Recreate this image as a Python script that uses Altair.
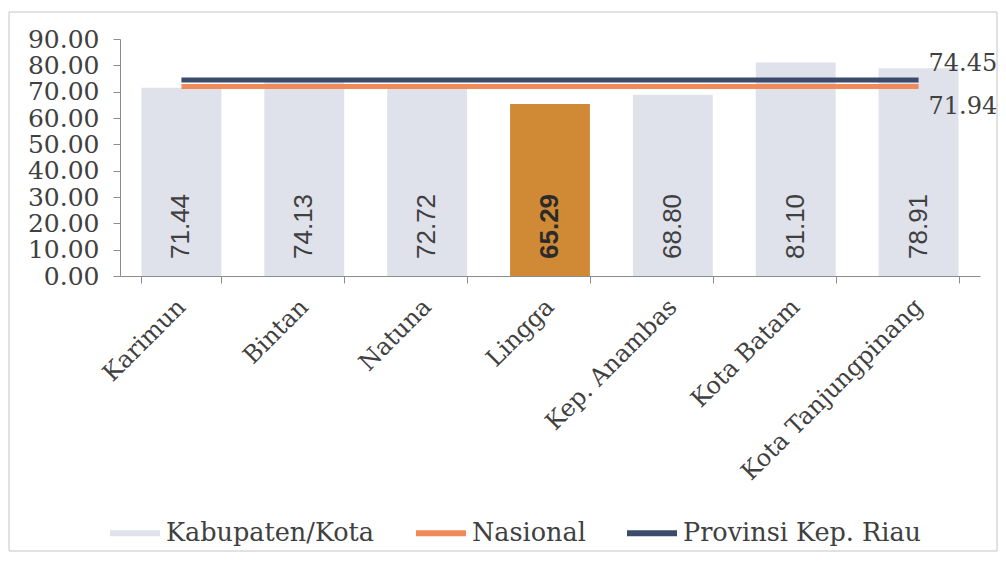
import altair as alt
import pandas as pd

categories = ["Karimun", "Bintan", "Natuna", "Lingga", "Kep. Anambas", "Kota Batam", "Kota Tanjungpinang"]
values = [71.44, 74.13, 72.72, 65.29, 68.80, 81.10, 78.91]
nasional_value = 71.94
provinsi_value = 74.45
highlight = "Lingga"
series_names = ["Kabupaten/Kota", "Nasional", "Provinsi Kep. Riau"]
series_colors = ["#dfe1eb", "#f08a5a", "#3c4a6c"]
y_ticks = [0, 10, 20, 30, 40, 50, 60, 70, 80, 90]

bars_df = pd.DataFrame({"wilayah": categories, "nilai": values})
lines_df = pd.DataFrame({
    "wilayah": categories + categories,
    "nilai": [nasional_value] * len(categories) + [provinsi_value] * len(categories),
    "seri": [series_names[1]] * len(categories) + [series_names[2]] * len(categories),
})
frame_df = pd.DataFrame({"frame": [1]})

TXT = "#404040"
AX = "#8c8c8c"
SERIF = "DejaVu Serif"

x_enc = alt.X(
    "wilayah:N", sort=categories,
    scale=alt.Scale(paddingInner=0.35, paddingOuter=0.175),
    axis=alt.Axis(title=None, labelAngle=-45, labelAlign="right", labelBaseline="middle",
                  labelFont=SERIF, labelFontSize=24, labelColor=TXT, labelPadding=20,
                  tickBand="extent", tickSize=7, domainColor=AX, tickColor=AX, labelLimit=400),
)
y_scale = alt.Scale(domain=[0, 90], nice=False)
y_axis = alt.Axis(title=None, values=y_ticks, format=".2f", grid=False, labelFont=SERIF,
                  labelFontSize=25, labelColor=TXT, tickSize=7, labelPadding=14,
                  labelOverlap=False, domainColor=AX, tickColor=AX)
y_enc = alt.Y("nilai:Q", scale=y_scale, axis=y_axis)
y_base = alt.YDatum(0, scale=y_scale, axis=y_axis)

frame = alt.Chart(frame_df).mark_rect(fill="white", fillOpacity=0, stroke="#c4c4c4", strokeWidth=1).encode(
    x=alt.value(-111), x2=alt.value(877), y=alt.value(-27), y2=alt.value(512)
)

bars = alt.Chart(bars_df).mark_bar().encode(
    x=x_enc, y=y_enc,
    color=alt.condition(alt.datum.wilayah == highlight, alt.value("#d08a35"), alt.value(series_colors[0])),
)

labels_normal = alt.Chart(bars_df).transform_filter(alt.datum.wilayah != highlight).mark_text(
    angle=270, align="left", baseline="middle", dx=17, font="Liberation Sans", fontSize=26, color=TXT
).encode(x=x_enc, y=y_base, text=alt.Text("nilai:Q", format=".2f"))

labels_bold = alt.Chart(bars_df).transform_filter(alt.datum.wilayah == highlight).mark_text(
    angle=270, align="left", baseline="middle", dx=17, font="Liberation Sans", fontSize=26,
    fontWeight="bold", color="#2b2b2b"
).encode(x=x_enc, y=y_base, text=alt.Text("nilai:Q", format=".2f"))

lines = alt.Chart(lines_df).mark_line(strokeWidth=5).encode(
    x=x_enc, y=y_enc,
    color=alt.Color("seri:N", scale=alt.Scale(domain=series_names, range=series_colors),
                    legend=alt.Legend(title=None, orient="none", legendX=-13, legendY=466,
                                      direction="horizontal", columns=3, symbolType="stroke",
                                      symbolSize=2500, symbolStrokeWidth=6, columnPadding=29,
                                      labelOffset=3, labelFont=SERIF, labelFontSize=25.5,
                                      labelColor=TXT, labelLimit=400)),
)

end_prov = alt.Chart(lines_df).transform_filter(
    (alt.datum.seri == series_names[2]) & (alt.datum.wilayah == categories[-1])
).mark_text(align="left", baseline="middle", dx=10, dy=-16, font=SERIF, fontSize=24, color=TXT).encode(
    x=x_enc, y=y_enc, text=alt.Text("nilai:Q", format=".2f")
)
end_nas = alt.Chart(lines_df).transform_filter(
    (alt.datum.seri == series_names[1]) & (alt.datum.wilayah == categories[-1])
).mark_text(align="left", baseline="middle", dx=10, dy=20, font=SERIF, fontSize=24, color=TXT).encode(
    x=x_enc, y=y_enc, text=alt.Text("nilai:Q", format=".2f")
)

chart = alt.layer(frame, bars, labels_normal, labels_bold, lines, end_prov, end_nas).properties(
    width=860, height=237, padding={"top": 3, "left": 0, "right": 0, "bottom": 0},
    background="white",
).configure_view(stroke=None).configure_axisY(labelOverlap=False)

chart.save("out.html", embed_options={"renderer": "svg", "actions": False})
